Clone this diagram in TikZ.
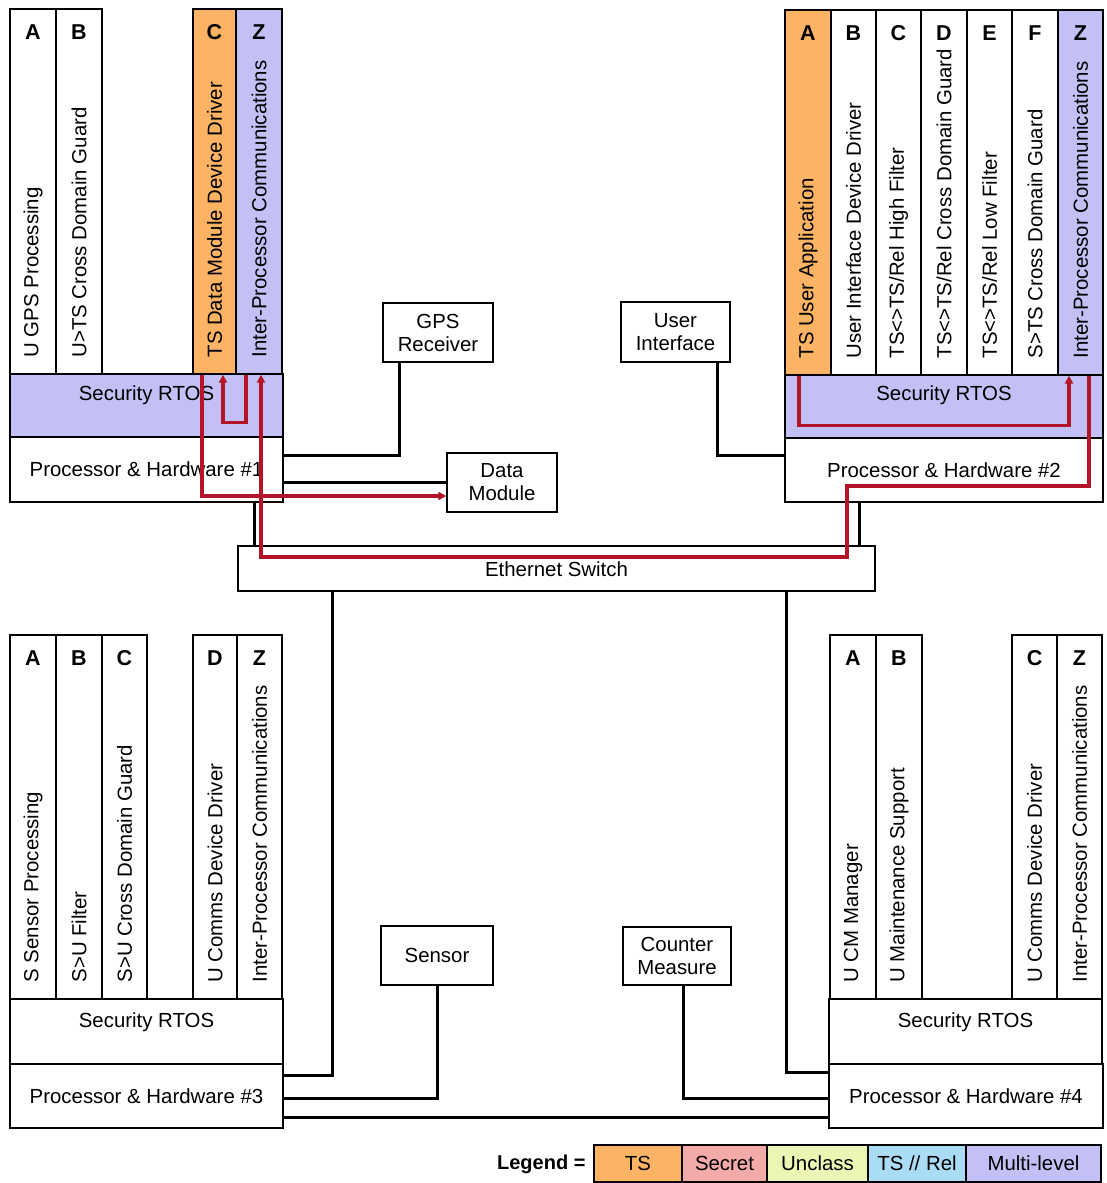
\documentclass[tikz,border=0pt]{standalone}
\usepackage{fontspec}
\setmainfont{Liberation Sans}
\usetikzlibrary{fit,arrows.meta,calc}
\definecolor{ts}{RGB}{252,180,100}
\definecolor{secret}{RGB}{245,170,170}
\definecolor{unclass}{RGB}{235,245,180}
\definecolor{tsrel}{RGB}{170,220,245}
\definecolor{ml}{RGB}{195,192,245}
\definecolor{rd}{RGB}{180,20,40}
\tikzset{
  box/.style={draw=black, line width=1.3pt, inner sep=0pt, rectangle},
  letter/.style={font=\fontsize{21.5}{24}\selectfont\bfseries, inner sep=0pt},
  vtext/.style={rotate=90, anchor=west, inner sep=0pt},
  wire/.style={line width=3pt, black},
  redw/.style={line width=3.2pt, rd},
  redarr/.style={redw, -{Triangle[length=8pt,width=8pt]}},
}
% name, x1, x2, ytop, ybot, fill, letter, text
\newcommand\mkcol[8]{%
  \node[box, fill=#6, fit={(#2,#4)(#3,#5)}] (#1) {};
  \node[letter] (#1l) at ([yshift=-24pt]#1.north) {#7};
  \node[vtext] (#1t) at ([yshift=17pt]#1.south) {#8};
}
\begin{document}
\begin{tikzpicture}[x=1pt, y=-1pt, font=\fontsize{20.4}{23}\selectfont]
\useasboundingbox[fill=white] (0,0) rectangle (1106,1183);

% ---------- Processor 1 ----------
\mkcol{p1a}{10}{56}{9}{374}{white}{A}{U GPS Processing}
\mkcol{p1b}{56}{102}{9}{374}{white}{B}{U>TS Cross Domain Guard}
\mkcol{p1c}{193}{236}{9}{374}{ts}{C}{TS Data Module Device Driver}
\mkcol{p1z}{236}{282}{9}{374}{ml}{Z}{Inter-Processor Communications}
\node[box, fill=ml, fit={(10,374)(283,437)}] (p1os) {};
\node (p1ost) at ([yshift=-22pt]p1os.north) {Security RTOS};
\node[box, fill=white, fit={(10,437)(283,502)}] (p1hw) {};
\node (p1hwt) at (p1hw.center) {Processor \& Hardware \#1};

% ---------- Processor 2 ----------
\mkcol{p2a}{785}{831}{10}{375}{ts}{A}{TS User Application}
\mkcol{p2b}{831}{876}{10}{375}{white}{B}{User Interface Device Driver}
\mkcol{p2c}{876}{921}{10}{375}{white}{C}{TS<>TS/Rel High Filter}
\mkcol{p2d}{921}{967}{10}{375}{white}{D}{TS<>TS/Rel Cross Domain Guard}
\mkcol{p2e}{967}{1012}{10}{375}{white}{E}{TS<>TS/Rel Low Filter}
\mkcol{p2f}{1012}{1058}{10}{375}{white}{F}{S>TS Cross Domain Guard}
\mkcol{p2z}{1058}{1103}{10}{375}{ml}{Z}{Inter-Processor Communications}
\node[box, fill=ml, fit={(785,375)(1103,438)}] (p2os) {};
\node (p2ost) at ([yshift=-21pt]p2os.north) {Security RTOS};
\node[box, fill=white, fit={(785,438)(1103,502)}] (p2hw) {};
\node (p2hwt) at (p2hw.center) {Processor \& Hardware \#2};

% ---------- Processor 3 ----------
\mkcol{p3a}{10}{56}{635}{999}{white}{A}{S Sensor Processing}
\mkcol{p3b}{56}{102}{635}{999}{white}{B}{S>U Filter}
\mkcol{p3c}{102}{147}{635}{999}{white}{C}{S>U Cross Domain Guard}
\mkcol{p3d}{193}{237}{635}{999}{white}{D}{U Comms Device Driver}
\mkcol{p3z}{237}{282}{635}{999}{white}{Z}{Inter-Processor Communications}
\node[box, fill=white, fit={(10,999)(283,1064)}] (p3os) {};
\node (p3ost) at ([yshift=-24pt]p3os.north) {Security RTOS};
\node[box, fill=white, fit={(10,1064)(283,1128)}] (p3hw) {};
\node (p3hwt) at (p3hw.center) {Processor \& Hardware \#3};

% ---------- Processor 4 ----------
\mkcol{p4a}{830}{876}{635}{999}{white}{A}{U CM Manager}
\mkcol{p4b}{876}{922}{635}{999}{white}{B}{U Maintenance Support}
\mkcol{p4c}{1012}{1057}{635}{999}{white}{C}{U Comms Device Driver}
\mkcol{p4z}{1057}{1102}{635}{999}{white}{Z}{Inter-Processor Communications}
\node[box, fill=white, fit={(829,999)(1102,1064)}] (p4os) {};
\node (p4ost) at ([yshift=-24pt]p4os.north) {Security RTOS};
\node[box, fill=white, fit={(829,1064)(1103,1128)}] (p4hw) {};
\node (p4hwt) at (p4hw.center) {Processor \& Hardware \#4};

% ---------- peripherals ----------
\node[box, fit={(383,303)(493,362)}] (gps) {};
\node[align=center] (gpst) at (gps.center) {GPS\\Receiver};
\node[box, fit={(621,302)(730,362)}] (ui) {};
\node[align=center] (uit) at (ui.center) {User\\Interface};
\node[box, fit={(447,453)(557,512)}] (dm) {};
\node[align=center] (dmt) at (dm.center) {Data\\Module};
\node[box, fit={(381,926)(493,985)}] (sens) {};
\node (senst) at (sens.center) {Sensor};
\node[box, fit={(623,927)(731,985)}] (cm) {};
\node[align=center] (cmt) at (cm.center) {Counter\\Measure};

% ---------- black wires ----------
\draw[wire] ([xshift=-39pt]gps.south) |- ([yshift=-19pt]p1hw.north east);
\draw[wire] (dm.west) -- (dm.west -| p1hw.east);
\draw[wire] ([xshift=41.5pt]ui.south) |- ([yshift=-18pt]p2hw.north west);

\coordinate (s1) at ([xshift=107.5pt]p1hw.south);
\coordinate (s2) at ([xshift=-85pt]p2hw.south);

% ---------- switch ----------
\node[box, fill=white, fit={(238,546)(875,591)}] (sw) {};
\node (swt) at ([yshift=-1pt]sw.center) {Ethernet Switch};

\draw[wire] (s1) -- (s1 |- sw.north);
\draw[wire] (s2) -- (s2 |- sw.north);
\draw[wire] ([xshift=-224.5pt]sw.south) |- ([yshift=-12pt]p3hw.north east);
\draw[wire] ([xshift=229.5pt]sw.south) |- ([yshift=-9pt]p4hw.north west);
\draw[wire] (sens.south) |- ([yshift=-2pt]p3hw.east);
\draw[wire] ([xshift=6pt]cm.south) |- ([yshift=-2pt]p4hw.west);
\draw[wire] ([yshift=11pt]p3hw.south east) -- ([yshift=11pt]p4hw.south west);

% ---------- red data flows ----------
\draw[redarr] ([xshift=-12.5pt]p1c.south) |- ([yshift=-13.5pt]dm.west);
\draw[redarr] ([xshift=-13pt]p1z.south) -- ++(0,48) -| ([xshift=8.5pt]p1c.south);
\coordinate (rA) at (847,486);
\coordinate (rB) at (261,557);
\draw[redarr] ([xshift=8.5pt]p2z.south) |- (rA) |- (rB) -- ([xshift=2pt]p1z.south);
\draw[redarr] ([xshift=-9pt]p2a.south) -- ++(0,50) -| ([xshift=-11.5pt]p2z.south);

% ---------- legend ----------
\node[anchor=east, font=\fontsize{20}{22}\selectfont\bfseries] (legt) at (589,1164) {Legend =};
\node[box, fill=ts, fit={(594,1145)(682,1182)}] (lg1) {};
\node (lg1t) at (lg1.center) {TS};
\node[box, fill=secret, fit={(682,1145)(767,1182)}] (lg2) {};
\node (lg2t) at (lg2.center) {Secret};
\node[box, fill=unclass, fit={(767,1145)(868,1182)}] (lg3) {};
\node (lg3t) at (lg3.center) {Unclass};
\node[box, fill=tsrel, fit={(868,1145)(966,1182)}] (lg4) {};
\node (lg4t) at (lg4.center) {TS // Rel};
\node[box, fill=ml, fit={(966,1145)(1101,1182)}] (lg5) {};
\node (lg5t) at (lg5.center) {Multi-level};
\end{tikzpicture}
\end{document}
